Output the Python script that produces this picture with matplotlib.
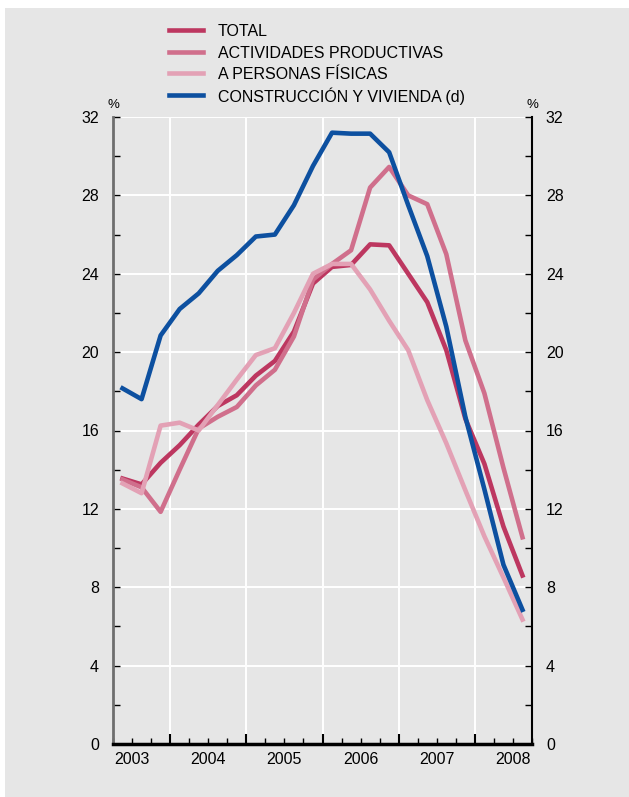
import matplotlib.pyplot as plt
import numpy as np
from matplotlib.patches import Rectangle
from matplotlib.lines import Line2D

plt.rcParams['font.family'] = ['Liberation Sans', 'DejaVu Sans']

# trimestres: 2003 T2 ... 2008 T3
anos = [2003, 2004, 2005, 2006, 2007, 2008]
n_trim = 22
x = 2003.25 + 0.125 + 0.25 * np.arange(n_trim)

total = [13.55, 13.25, 14.35, 15.25, 16.3, 17.25, 17.8, 18.8, 19.55, 21.05, 23.5,
         24.35, 24.45, 25.5, 25.45, 24.0, 22.55, 20.1, 16.6, 14.3, 11.1, 8.6]
actividades = [13.5, 13.1, 11.85, 14.0, 16.1, 16.7, 17.2, 18.3, 19.1, 20.8, 23.7,
               24.5, 25.2, 28.4, 29.45, 28.0, 27.55, 25.0, 20.6, 17.9, 14.1, 10.55]
personas = [13.3, 12.8, 16.25, 16.4, 16.0, 17.3, 18.6, 19.85, 20.2, 22.0, 24.0,
            24.5, 24.5, 23.2, 21.6, 20.1, 17.55, 15.35, 12.95, 10.6, 8.5, 6.35]
construccion = [18.15, 17.6, 20.85, 22.2, 23.0, 24.15, 24.95, 25.9, 26.0, 27.5, 29.5,
                31.2, 31.15, 31.15, 30.2, 27.5, 24.9, 21.3, 16.7, 13.0, 9.15, 6.85]

etiquetas = ["TOTAL", "ACTIVIDADES PRODUCTIVAS", "A PERSONAS FÍSICAS",
             "CONSTRUCCIÓN Y VIVIENDA (d)"]
colores = ["#bd3760", "#d06f8c", "#e3a1b5", "#0d50a0"]

gris = "#e6e6e6"
fig = plt.figure(figsize=(6.29, 7.97), dpi=100, facecolor="white")
fig.patches.append(Rectangle((5 / 629, 0), 1, 1 - 8 / 797, transform=fig.transFigure,
                             facecolor=gris, edgecolor="none", zorder=-10))

ax = fig.add_axes([113 / 629, 1 - 744 / 797, (532 - 113) / 629, (744 - 117) / 797])
ax.set_facecolor(gris)

for serie, lab, col in zip([total, actividades, personas, construccion], etiquetas, colores):
    ax.plot(x, serie, color=col, lw=3.3, label=lab, zorder=3)

ax.set_xlim(2003.25, 2008.75)
ax.set_ylim(0, 32)

# rejilla
for v in range(4, 33, 4):
    ax.axhline(v, color="white", lw=1.4, zorder=1)
for a in anos[1:]:
    ax.axvline(a, color="white", lw=1.4, zorder=1)

# eje y
ax.set_yticks(range(0, 33, 4))
ax.set_yticks(range(2, 32, 4), minor=True)
ax.tick_params(axis="y", which="both", direction="in", labelsize=11.5, pad=10,
               left=True, right=True, labelleft=True, labelright=True)
ax.tick_params(axis="y", which="major", length=5, width=1)
ax.tick_params(axis="y", which="minor", length=5, width=1)

# eje x
ax.set_xticks(anos[1:])
ax.set_xticklabels([])
ax.set_xticks(np.arange(2003.25, 2008.76, 0.25), minor=True)
ax.tick_params(axis="x", which="major", direction="in", length=7, width=1.5)
ax.tick_params(axis="x", which="minor", direction="in", length=4, width=1)
for a in anos:
    ax.text(a + 0.5, -0.012, str(a), transform=ax.get_xaxis_transform(),
            ha="center", va="top", fontsize=11.5)

ax.spines["top"].set_visible(False)
ax.spines["left"].set_color("#6e6e6e")
ax.spines["left"].set_linewidth(2)
ax.spines["bottom"].set_linewidth(2.5)
ax.spines["right"].set_linewidth(1.5)

ax.text(0.0, 1.01, "%", transform=ax.transAxes, ha="center", va="bottom", fontsize=9.5)
ax.text(1.0, 1.01, "%", transform=ax.transAxes, ha="center", va="bottom", fontsize=9.5)

# leyenda
for k, (lab, col) in enumerate(zip(etiquetas, colores)):
    yl = 1 - (30 + 21.5 * k) / 797
    fig.add_artist(Line2D([169 / 629, 203 / 629], [yl, yl], color=col, lw=3.3,
                          transform=fig.transFigure))
    fig.text(218 / 629, yl, lab, ha="left", va="center_baseline", fontsize=11.5)

fig.savefig("out.png", dpi=100, facecolor=fig.get_facecolor())
